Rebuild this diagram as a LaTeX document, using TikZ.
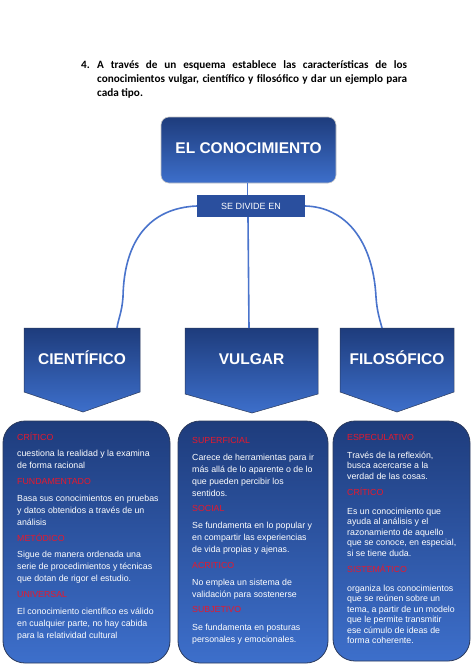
\documentclass[tikz,border=0pt]{standalone}
\usepackage{fontspec}
\setmainfont{Liberation Sans}
\newfontfamily\titlefont{Carlito}
\definecolor{boxtop}{HTML}{1E3C7C}
\definecolor{boxbot}{HTML}{3D6FCB}
\definecolor{divfill}{HTML}{2A4F9E}
\definecolor{linkc}{HTML}{4A74CC}
\definecolor{hd}{HTML}{E8182C}
\definecolor{bedge}{HTML}{2B3A5C}
\begin{document}
\begin{tikzpicture}[x=1pt,y=-1pt,
  topbox/.style={rounded corners=8pt, top color=boxtop, bottom color=boxbot, draw=gray!45, line width=0.6pt,
    minimum width=175pt, minimum height=66pt, inner sep=0pt},
  toptext/.style={text=white, font=\bfseries\fontsize{15.5}{18}\selectfont, inner sep=0pt, anchor=base},
  divbox/.style={fill=divfill, minimum width=108pt, minimum height=22pt, inner sep=0pt, text=white,
    font=\fontsize{9}{11}\selectfont},
  link/.style={draw=linkc, line width=1.6pt},
  pent/.style={top color=boxtop, bottom color=boxbot, draw=bedge, line width=0.5pt},
  penttext/.style={text=white, font=\bfseries\fontsize{15.5}{18}\selectfont, inner sep=0pt, anchor=base},
  bbox/.style={rounded corners=22pt, top color=boxtop, bottom color=boxbot, draw=bedge, line width=0.8pt, inner sep=0pt},
  btext/.style={anchor=north west, inner sep=0pt, align=left, text=white},
]
\useasboundingbox (0,0) rectangle (474,670);
\fill[white] (0,0) rectangle (474,670);

% title
\node[anchor=base west, inner sep=0pt, font=\titlefont\bfseries\fontsize{11.2}{14}\selectfont] (num) at (81,68) {4.};
\node[anchor=north west, inner sep=0pt, text width=310pt, align=justify,
      font=\titlefont\bfseries\fontsize{11.2}{14}\selectfont] (title) at (97,59)
  {\rule{0pt}{9pt}A través de un esquema establece las características de los\linebreak
   conocimientos vulgar, científico y filosófico y dar un ejemplo para\linebreak
   cada tipo.};

% top
\node[topbox] (top) at (248.5,150) {};
\node[toptext] (toplabel) at (248.5,153) {EL CONOCIMIENTO};
\node[divbox] (div) at (251,206) {SE DIVIDE EN};

% pentagons
\path[pent] (24,328) -- (140,328) -- (140,392) -- (83,412) -- (24,392) -- cycle;
\path[pent] (185,328) -- (318,328) -- (318,394) -- (252,413) -- (185,394) -- cycle;
\path[pent] (340,328) -- (454,328) -- (454,392) -- (397,412) -- (340,392) -- cycle;
\node[penttext] (cien) at (82,364) {CIENTÍFICO};
\node[penttext] (vulg) at (251.5,364) {VULGAR};
\node[penttext] (filo) at (397,364) {FILOSÓFICO};
\coordinate (cT) at (117,328);
\coordinate (vT) at (249,328);
\coordinate (fT) at (382,328);

% connectors
\draw[link] (top.south -| 247.5,0) -- (div.north -| 247.5,0);
\draw[link] (div.south -| 248,0) -- (vT);
\draw[link] (div.west) .. controls (150,208) and (124,240) .. (123,297) .. controls (122,312) and (118,320) .. (cT);
\draw[link] (div.east) .. controls (345,207) and (373,240) .. (376,297) .. controls (377,312) and (380,320) .. (fT);

% bottom boxes
\path[bbox] (3,421) rectangle (170,663);
\path[bbox] (178,421) rectangle (328,663);
\path[bbox] (333,421) rectangle (470,661);

\node[btext, font=\fontsize{8.8}{12}\selectfont] (tcien) at (17,432) {%
\rule{0pt}{8pt}\textcolor{hd}{CRÍTICO}\\[4.5pt]
cuestiona la realidad y la examina\\
de forma racional\\[4pt]
\textcolor{hd}{FUNDAMENTADO}\\[4.5pt]
Basa sus conocimientos en pruebas\\
y datos obtenidos a través de un\\
análisis\\[4pt]
\textcolor{hd}{METÓDICO}\\[4.5pt]
Sigue de manera ordenada una\\
serie de procedimientos y técnicas\\
que dotan de rigor el estudio.\\[4pt]
\textcolor{hd}{UNIVERSAL}\\[4.5pt]
El conocimiento científico es válido\\
en cualquier parte, no hay cabida\\
para la relatividad cultural};

\node[btext, font=\fontsize{8.8}{12}\selectfont] (tvulg) at (192,435) {%
\rule{0pt}{8pt}\textcolor{hd}{SUPERFICIAL}\\[5pt]
Carece de herramientas para ir\\
más allá de lo aparente o de lo\\
que pueden percibir los\\
sentidos.\\[3.5pt]
\textcolor{hd}{SOCIAL}\\[5pt]
Se fundamenta en lo popular y\\
en compartir las experiencias\\
de vida propias y ajenas.\\[3.5pt]
\textcolor{hd}{ACRITICO}\\[5pt]
No emplea un sistema de\\
validación para sostenerse\\[3.5pt]
\textcolor{hd}{SUBJETIVO}\\[6pt]
Se fundamenta en posturas\\
personales y emocionales.};

\node[btext, font=\fontsize{8.8}{10.5}\selectfont] (tfilo) at (347,432) {%
\rule{0pt}{8pt}\textcolor{hd}{ESPECULATIVO}\\[7.5pt]
Través de la reflexión,\\
busca acercarse a la\\
verdad de las cosas.\\[6pt]
\textcolor{hd}{CRÍTICO}\\[8pt]
Es un conocimiento que\\
ayuda al análisis y el\\
razonamiento de aquello\\
que se conoce, en especial,\\
si se tiene duda.\\[6pt]
\textcolor{hd}{SISTEMÁTICO}\\[8pt]
organiza los conocimientos\\
que se reúnen sobre un\\
tema, a partir de un modelo\\
que le permite transmitir\\
ese cúmulo de ideas de\\
forma coherente.};
\end{tikzpicture}
\end{document}
